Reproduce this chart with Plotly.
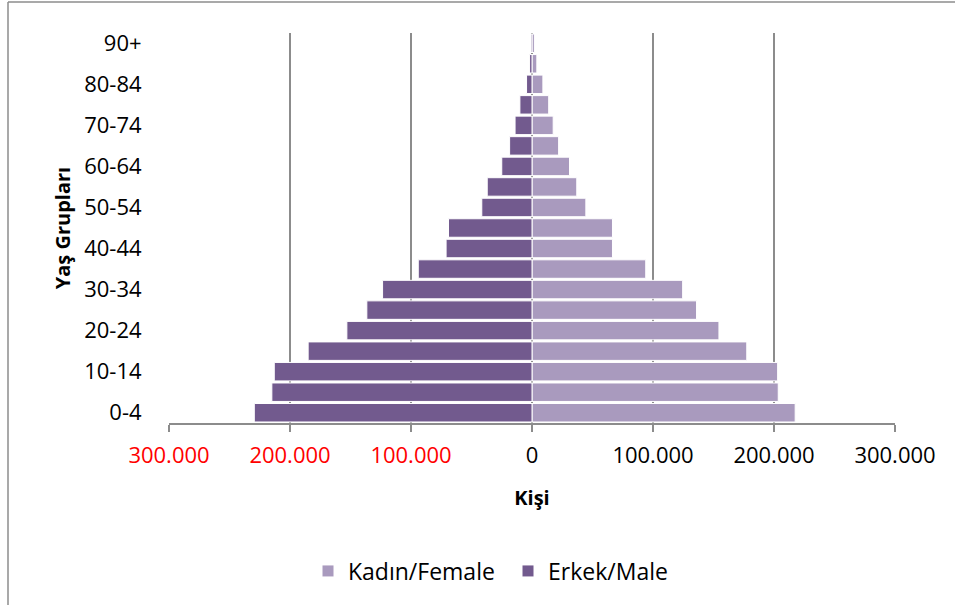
import plotly.graph_objects as go

age_groups = ["0-4", "5-9", "10-14", "15-19", "20-24", "25-29", "30-34", "35-39",
              "40-44", "45-49", "50-54", "55-59", "60-64", "65-69", "70-74",
              "75-79", "80-84", "85-89", "90+"]
male = [229500, 215000, 213000, 185000, 153000, 136500, 123500, 94000, 71000,
        69000, 41500, 37000, 25000, 18500, 14000, 10000, 4500, 2000, 800]
female = [217500, 203500, 203000, 177500, 154500, 136000, 124500, 94000, 66500,
          66500, 44500, 37000, 31000, 22000, 17500, 13800, 9000, 4000, 2000]
y_tick_labels = ["0-4", "10-14", "20-24", "30-34", "40-44", "50-54", "60-64",
                 "70-74", "80-84", "90+"]
x_tick_values = [-300000, -200000, -100000, 0, 100000, 200000, 300000]
x_tick_text = ["<span style='color:#ff0000'>300.000</span>",
               "<span style='color:#ff0000'>200.000</span>",
               "<span style='color:#ff0000'>100.000</span>",
               "0", "100.000", "200.000", "300.000"]

MALE_COLOR = "#725a8e"
FEMALE_COLOR = "#a99abe"
FONT = "Open Sans"
GRID = "#8c8c8c"

fig = go.Figure()
fig.add_trace(go.Bar(
    y=age_groups, x=female, orientation="h", name="Kadın/Female",
    marker=dict(color=FEMALE_COLOR, line=dict(color="white", width=1)),
))
fig.add_trace(go.Bar(
    y=age_groups, x=[-v for v in male], orientation="h", name="Erkek/Male",
    marker=dict(color=MALE_COLOR, line=dict(color="white", width=1)),
))

W, H = 955, 605
L, R, T, B = 169, 60, 33, 182
pw, ph = W - L - R, H - T - B

def px_x(p):
    return (p - L) / pw

def px_y(p):
    return (H - B - p) / ph

fig.update_layout(
    width=W, height=H,
    margin=dict(l=L, r=R, t=T, b=B, autoexpand=False),
    barmode="relative",
    bargap=0.1,
    plot_bgcolor="white",
    paper_bgcolor="white",
    font=dict(family=FONT, size=22, color="black"),
    showlegend=True,
    legend=dict(orientation="h", x=px_x(308), xanchor="left", y=px_y(571), yanchor="middle",
                font=dict(family=FONT, size=23, color="black"),
                itemwidth=30, traceorder="normal", tracegroupgap=0,
                entrywidth=155, entrywidthmode="pixels"),
    xaxis=dict(
        range=[-300000, 300000], automargin=False,
        tickvals=x_tick_values, ticktext=x_tick_text,
        showgrid=True, gridcolor=GRID, gridwidth=1.5,
        zeroline=True, zerolinecolor=GRID, zerolinewidth=1.5,
        showline=True, linecolor=GRID, linewidth=1.5,
        ticks="outside", ticklen=7, tickcolor=GRID, tickwidth=1.5,
        ticklabelstandoff=5,
        tickfont=dict(family=FONT, size=22, color="black"),
        title=dict(text="<b>Kişi</b>", font=dict(family=FONT, size=20), standoff=23),
    ),
    yaxis=dict(
        categoryorder="array", categoryarray=age_groups, automargin=False,
        tickvals=y_tick_labels, ticktext=y_tick_labels,
        showgrid=False, showline=False,
        ticks="outside", ticklen=22, tickcolor="rgba(0,0,0,0)",
        tickfont=dict(family=FONT, size=22, color="black"),
        title=dict(text="<b>Yaş Grupları</b>", font=dict(family=FONT, size=20), standoff=8),
    ),
    shapes=[
        dict(type="line", xref="paper", yref="paper", x0=px_x(8), x1=px_x(960),
             y0=px_y(2), y1=px_y(2), line=dict(color=GRID, width=1.5)),
        dict(type="line", xref="paper", yref="paper", x0=px_x(8), x1=px_x(8),
             y0=px_y(2), y1=px_y(610), line=dict(color=GRID, width=1.5)),
    ],
)

fig.write_html(
    "out.html",
    config={"displayModeBar": False},
    post_script="document.body.style.margin='0';document.body.style.overflow='hidden';",
)
